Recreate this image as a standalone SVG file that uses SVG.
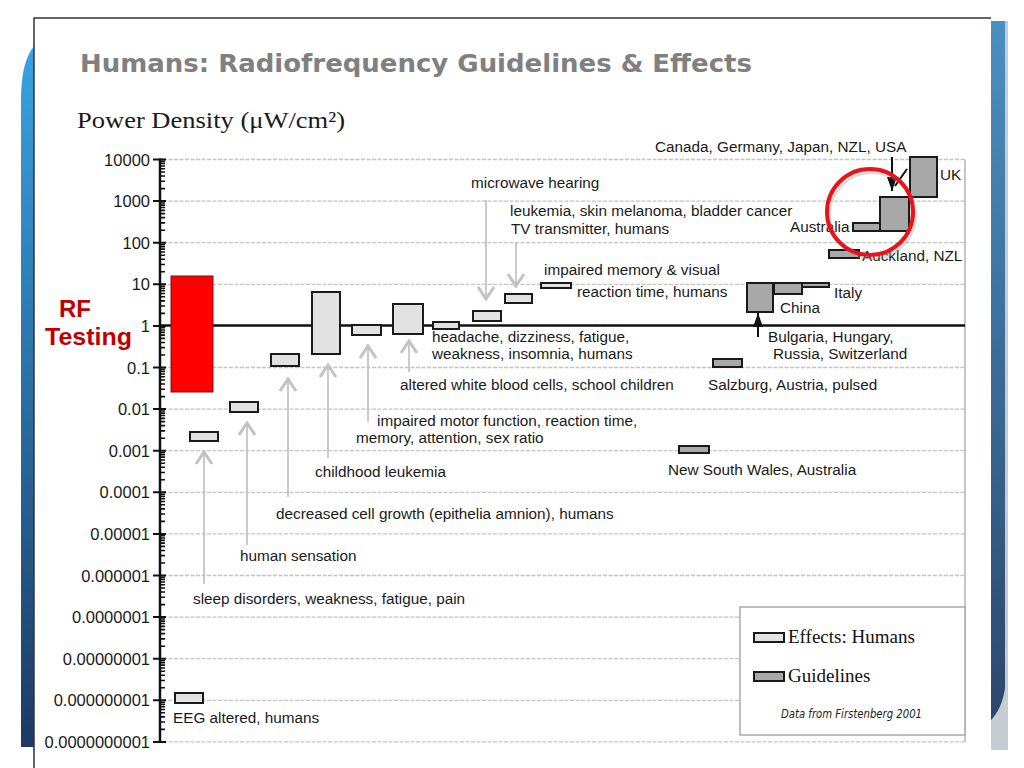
<svg xmlns="http://www.w3.org/2000/svg" xmlns:xlink="http://www.w3.org/1999/xlink" width="1024" height="768" viewBox="0 0 1024 768">
<style>
.lbl{font-family:"Liberation Sans",Arial,sans-serif;font-size:15.3px;fill:#1a1a1a}
.ax{font-family:"Liberation Sans",Arial,sans-serif;font-size:16.5px;fill:#1a1a1a;text-anchor:end}
.eff{fill:#e2e2e2;stroke:#1a1a1a;stroke-width:2}
.gdl{fill:#a8a8a8;stroke:#1a1a1a;stroke-width:2}
.grid{stroke:#c4c4c4;stroke-width:1.3;stroke-dasharray:4 1.5;fill:none}
.garr{stroke:#bdbdbd;stroke-width:1.6;fill:none}
.barr{stroke:#111;stroke-width:2;fill:none}
.leg{font-family:"Liberation Serif","Times New Roman",serif;font-size:19px;fill:#111}
</style>
<defs>
<linearGradient id="lb" x1="0" y1="0" x2="0" y2="1">
<stop offset="0" stop-color="#38a3e3"/><stop offset="1" stop-color="#1d3a62"/>
</linearGradient>
<linearGradient id="rb" x1="0" y1="0" x2="0" y2="1">
<stop offset="0" stop-color="#4a90c2"/><stop offset="1" stop-color="#2c476b"/>
</linearGradient>
<marker id="gh" viewBox="-14 -10 16 20" refX="0" refY="0" markerWidth="16" markerHeight="20" markerUnits="userSpaceOnUse" orient="auto">
<path d="M-12,-8 L0,0 L-12,8" fill="none" stroke="#c2c2c2" stroke-width="3"/>
</marker>
<marker id="bh" viewBox="-15 -6 16 12" refX="0" refY="0" markerWidth="16" markerHeight="12" markerUnits="userSpaceOnUse" orient="auto">
<path d="M-14,-5 L0,0 L-14,5 Z" fill="#111"/>
</marker>
<path id="dec" d="M160 1.9h5M160 4.03h5M160 6.44h5M160 9.23h5M160 12.52h5M160 16.55h5M160 21.75h5M160 29.08h5" stroke="#111" stroke-width="1.6"/>
</defs>
<rect width="1024" height="768" fill="#fff"/>
<!-- page decoration -->
<path d="M21 747 V100 Q21 62 34 46 V747 Z" fill="url(#lb)"/>
<rect x="991" y="21" width="17" height="729" fill="#c6ccd1"/>
<path d="M991 21 H1005 V688 C1003 703 997 714 991 720 Z" fill="url(#rb)"/>
<path d="M34 768 V18 H991" fill="none" stroke="#333" stroke-width="1.5"/>
<text x="80" y="72" font-family="'DejaVu Sans',Verdana,sans-serif" font-weight="bold" font-size="24" fill="#808080" textLength="672" lengthAdjust="spacingAndGlyphs">Humans: Radiofrequency Guidelines &amp; Effects</text>
<text x="77" y="128" font-family="'Liberation Serif','Times New Roman',serif" font-size="23" fill="#1a1a1a" textLength="268" lengthAdjust="spacingAndGlyphs">Power Density (μW/cm²)</text>
<!-- grid -->
<g id="grid">
<path class="grid" d="M163 159.5H965M163 201.1H965M163 242.7H965M163 284.3H965M163 367.5H965M163 409.1H965M163 450.7H965M163 492.3H965M163 533.9H965M163 575.5H965M163 617.1H965M163 658.7H965M163 700.3H965M163 741.9H965"/>
<path d="M965 159.5V742" stroke="#b4b4b4" stroke-width="1.5" fill="none"/>
<path d="M160 325.5H965" stroke="#111" stroke-width="2.6" fill="none"/>
</g>
<!-- axis -->
<g id="axis">
<path d="M160 158.5V743" stroke="#111" stroke-width="2.5" fill="none"/>
<path d="M153 159.5h13M153 201.1h13M153 242.7h13M153 284.3h13M153 325.9h13M153 367.5h13M153 409.1h13M153 450.7h13M153 492.3h13M153 533.9h13M153 575.5h13M153 617.1h13M153 658.7h13M153 700.3h13M153 741.9h13" stroke="#111" stroke-width="2" fill="none"/>
<use xlink:href="#dec" y="159.5"/><use xlink:href="#dec" y="201.1"/><use xlink:href="#dec" y="242.7"/><use xlink:href="#dec" y="284.3"/><use xlink:href="#dec" y="325.9"/><use xlink:href="#dec" y="367.5"/><use xlink:href="#dec" y="409.1"/><use xlink:href="#dec" y="450.7"/><use xlink:href="#dec" y="492.3"/><use xlink:href="#dec" y="533.9"/><use xlink:href="#dec" y="575.5"/><use xlink:href="#dec" y="617.1"/><use xlink:href="#dec" y="658.7"/><use xlink:href="#dec" y="700.3"/>
<text class="ax" x="150" y="165.5">10000</text>
<text class="ax" x="150" y="207.1">1000</text>
<text class="ax" x="150" y="248.7">100</text>
<text class="ax" x="150" y="290.3">10</text>
<text class="ax" x="150" y="331.9">1</text>
<text class="ax" x="150" y="373.5">0.1</text>
<text class="ax" x="150" y="415.1">0.01</text>
<text class="ax" x="150" y="456.7">0.001</text>
<text class="ax" x="150" y="498.3">0.0001</text>
<text class="ax" x="150" y="539.9">0.00001</text>
<text class="ax" x="150" y="581.5">0.000001</text>
<text class="ax" x="150" y="623.1">0.0000001</text>
<text class="ax" x="150" y="664.7">0.00000001</text>
<text class="ax" x="150" y="706.3">0.000000001</text>
<text class="ax" x="150" y="747.9">0.0000000001</text>
</g>
<!-- connectors -->
<g id="connectors">
<path class="garr" d="M204 584V452" marker-end="url(#gh)"/>
<path class="garr" d="M247 545V423" marker-end="url(#gh)"/>
<path class="garr" d="M288 497V379" marker-end="url(#gh)"/>
<path class="garr" d="M328 458V365" marker-end="url(#gh)"/>
<path class="garr" d="M368 422V346" marker-end="url(#gh)"/>
<path class="garr" d="M409 372V341" marker-end="url(#gh)"/>
<path class="garr" d="M486 200V299" marker-end="url(#gh)"/>
<path class="garr" d="M516 242V286" marker-end="url(#gh)"/>
<path class="barr" d="M892 157V191" marker-end="url(#bh)"/>
<path class="barr" d="M895 186L907 169"/>
<path class="barr" d="M758 337V313" marker-end="url(#bh)"/>
</g>
<!-- RF testing -->
<g id="rf-testing">
<rect x="171" y="276" width="42" height="116" fill="#ff0000" stroke="#7a1010" stroke-width="1"/>
<text x="75" y="317" font-family="'Liberation Sans',Arial,sans-serif" font-weight="bold" font-size="24" fill="#c00000" text-anchor="middle">RF</text>
<text x="45" y="345" font-family="'Liberation Sans',Arial,sans-serif" font-weight="bold" font-size="24" fill="#c00000" textLength="87" lengthAdjust="spacingAndGlyphs">Testing</text>
</g>
<!-- effects -->
<g id="e-sleep"><rect class="eff" x="190" y="432" width="28" height="9"/><text class="lbl" x="193" y="604">sleep disorders, weakness, fatigue, pain</text></g>
<g id="e-sensation"><rect class="eff" x="230" y="402" width="28" height="10"/><text class="lbl" x="240" y="561">human sensation</text></g>
<g id="e-cellgrowth"><rect class="eff" x="271" y="354" width="28" height="12"/><text class="lbl" x="276" y="519">decreased cell growth (epithelia amnion), humans</text></g>
<g id="e-childhood"><rect class="eff" x="312" y="292" width="28" height="62"/><text class="lbl" x="315" y="477">childhood leukemia</text></g>
<g id="e-motor"><rect class="eff" x="352" y="325" width="29" height="10"/><text class="lbl" x="377" y="426">impaired motor function, reaction time,</text><text class="lbl" x="356" y="443">memory, attention, sex ratio</text></g>
<g id="e-whiteblood"><rect class="eff" x="393" y="304" width="30" height="30"/><text class="lbl" x="400" y="390">altered white blood cells, school children</text></g>
<g id="e-headache"><rect class="eff" x="433" y="322" width="26" height="7"/><text class="lbl" x="432" y="342">headache, dizziness, fatigue,</text><text class="lbl" x="432" y="359">weakness, insomnia, humans</text></g>
<g id="e-microwave"><rect class="eff" x="473" y="311" width="28" height="10"/><text class="lbl" x="471" y="188">microwave hearing</text></g>
<g id="e-leukemia"><rect class="eff" x="505" y="294" width="27" height="9"/><text class="lbl" x="510" y="216">leukemia, skin melanoma, bladder cancer</text><text class="lbl" x="511" y="234">TV transmitter, humans</text></g>
<g id="e-memory"><rect class="eff" x="541" y="283" width="30" height="5"/><text class="lbl" x="544" y="275">impaired memory &amp; visual</text><text class="lbl" x="577" y="297">reaction time, humans</text></g>
<g id="e-eeg"><rect class="eff" x="175" y="693" width="28" height="10"/><text class="lbl" x="173" y="723">EEG altered, humans</text></g>
<!-- guidelines -->
<g id="g-salzburg"><rect class="gdl" x="713" y="359" width="29" height="8"/><text class="lbl" x="708" y="390">Salzburg, Austria, pulsed</text></g>
<g id="g-nsw"><rect class="gdl" x="679" y="446" width="30" height="7"/><text class="lbl" x="668" y="475">New South Wales, Australia</text></g>
<g id="g-bulgaria"><text class="lbl" x="768" y="342">Bulgaria, Hungary,</text><text class="lbl" x="773" y="359">Russia, Switzerland</text></g>
<g id="g-china"><rect class="gdl" x="747" y="283" width="26" height="29"/><text class="lbl" x="780" y="313">China</text></g>
<g id="g-mid"><rect class="gdl" x="774" y="283" width="28" height="11"/></g>
<g id="g-italy"><rect class="gdl" x="802" y="283" width="27" height="4"/><text class="lbl" x="834" y="298">Italy</text></g>
<g id="g-auckland"><rect class="gdl" x="829" y="250" width="30" height="8"/><text class="lbl" x="862" y="261">Auckland, NZL</text></g>
<g id="g-australia"><rect class="gdl" x="853" y="223" width="27" height="8"/><text class="lbl" x="790" y="232">Australia</text></g>
<g id="g-canada"><rect class="gdl" x="880" y="197" width="29" height="34"/><text class="lbl" x="655" y="152">Canada, Germany, Japan, NZL, USA</text></g>
<g id="g-uk"><rect class="gdl" x="910" y="157" width="27" height="40"/><text class="lbl" x="940" y="180">UK</text></g>
<!-- highlight circle -->
<g id="highlight">
<circle cx="872" cy="215" r="43" fill="none" stroke="#999" stroke-opacity="0.35" stroke-width="4"/>
<circle cx="870" cy="212" r="43" fill="none" stroke="#e8141b" stroke-width="4"/>
</g>
<!-- legend -->
<g id="legend">
<rect x="740" y="607" width="225" height="128" fill="#fff" stroke="#a8a8a8" stroke-width="1.5"/>
<rect class="eff" x="754" y="633" width="30" height="9"/>
<text class="leg" x="788" y="643">Effects: Humans</text>
<rect class="gdl" x="754" y="672" width="30" height="9"/>
<text class="leg" x="788" y="682">Guidelines</text>
<text x="781" y="718" font-family="'DejaVu Sans',Verdana,sans-serif" font-style="italic" font-size="11.5" fill="#222" textLength="141" lengthAdjust="spacingAndGlyphs">Data from Firstenberg 2001</text>
</g>
</svg>
